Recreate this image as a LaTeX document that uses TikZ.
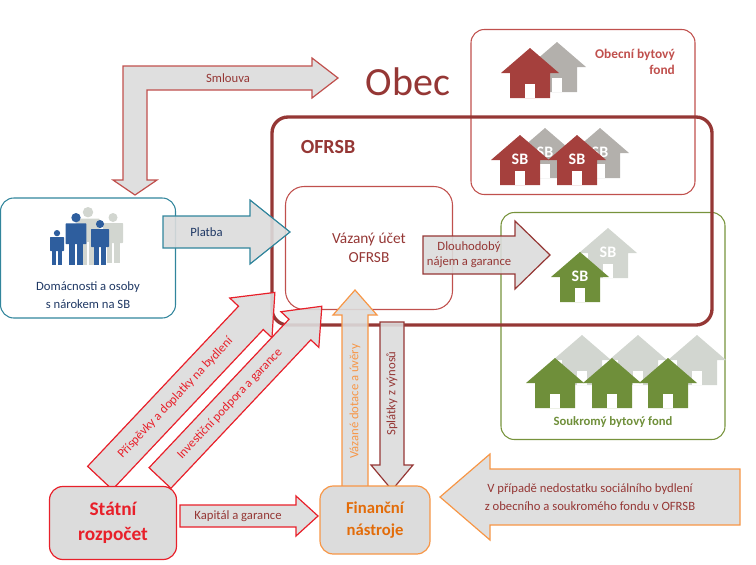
\documentclass[tikz,border=0pt]{standalone}
\usepackage{fontspec}
\setmainfont{Carlito}
\definecolor{dred}{HTML}{953735}
\definecolor{mred}{HTML}{C0504D}
\definecolor{hred}{HTML}{A5403D}
\definecolor{brred}{HTML}{E8202A}
\definecolor{teal}{HTML}{31859C}
\definecolor{dblue}{HTML}{1F3864}
\definecolor{pblue}{HTML}{2E5E9E}
\definecolor{olive}{HTML}{77933C}
\definecolor{hgreen}{HTML}{6F8F3A}
\definecolor{orng}{HTML}{F79646}
\definecolor{dorng}{HTML}{E36C09}
\definecolor{agray}{HTML}{DCDCDC}
\definecolor{hgray}{HTML}{B3B0AC}
\definecolor{lgray}{HTML}{D2D6D0}
\newcommand\fatarrow[9]{%
\begin{scope}[shift={(#2)},rotate=#3]
\draw[#1,fill=agray,fill opacity=0.9,line width=0.9pt] (0,-#5/2) -- ({#4-#7},-#5/2) -- ({#4-#7},-#6/2) -- (#4,0) -- ({#4-#7},#6/2) -- ({#4-#7},#5/2) -- (0,#5/2) -- cycle;
\node[#1,draw=none,rotate=#9,font=\fontsize{9.5}{11}\selectfont,align=center] (n#3#4) at ({(#4-#7)/2},0) {#8};
\end{scope}}
\newcommand\house[4]{%
\begin{scope}[shift={(#1,#2)}]
\fill[#3] (0,0) -- (29,25) -- (20,25) -- (20,50) -- (-20,50) -- (-20,25) -- (-29,25) -- cycle;
\fill[white] (-5,36) rectangle (5,50);
\node[white,font=\bfseries\fontsize{12}{12}\selectfont] at (0,24) {#4};
\end{scope}}
\newcommand\person[4]{%
\begin{scope}[shift={(#1,#2)},x=#3*0.75pt,y=-#3*0.75pt]
\fill[#4] (0,0.09) circle[radius=0.09];
\fill[#4,rounded corners=0.5] (-0.2,0.2) rectangle (0.2,0.6);
\fill[#4] (-0.13,0.55) rectangle (-0.02,1);
\fill[#4] (0.02,0.55) rectangle (0.13,1);
\end{scope}}
\begin{document}
\begin{tikzpicture}[x=0.75pt,y=-0.75pt,
 lab/.style={font=\fontsize{9.5}{11}\selectfont}]
\useasboundingbox (0,0) rectangle (756,564);
% boxes
\node[draw=mred,line width=0.8pt,rounded corners=10pt,minimum width=224*0.75pt,minimum height=165*0.75pt] (obecni) at (583,112) {};
\node[draw=olive,line width=0.8pt,rounded corners=10pt,minimum width=224*0.75pt,minimum height=227*0.75pt] (soukr) at (613,326) {};
\node[draw=dred,line width=2.5pt,rounded corners=12pt,minimum width=440*0.75pt,minimum height=208*0.75pt] (ofrsb) at (492,221) {};
\node[text=dred,font=\bfseries\fontsize{15}{15}\selectfont] (ofl) at (328,147) {OFRSB};
\node[text=dred,font=\fontsize{30}{30}\selectfont] (obec) at (408,82) {Obec};
\node[draw=mred,line width=0.8pt,rounded corners=14pt,minimum width=167*0.75pt,minimum height=123*0.75pt,text=dred,align=center,font=\fontsize{11.5}{14}\selectfont] (ucet) at (369,248) {Vázaný účet\\OFRSB};
\node[text=mred,font=\bfseries\fontsize{10}{12}\selectfont,align=right] (obl) at (635,62) {Obecní bytový\\fond};
\node[text=hgreen,font=\bfseries\fontsize{9.5}{11}\selectfont] (sol) at (613,422) {Soukromý bytový fond};
\node[draw=teal,line width=0.8pt,rounded corners=10pt,minimum width=175*0.75pt,minimum height=120*0.75pt] (dom) at (88,258) {};
\node[text=dblue,align=center,font=\fontsize{9.5}{13}\selectfont] (doml) at (88,295) {Domácnosti a osoby\\s nárokem na SB};
% houses
\house{557}{42}{hgray}{}
\house{530}{48}{hred}{}
\house{545}{128}{hgray}{SB}
\house{520}{135}{hred}{SB}
\house{600}{128}{hgray}{SB}
\house{577}{135}{hred}{SB}
\house{608}{228}{lgray}{SB}
\house{580}{252}{hgreen}{SB}
\foreach \x in {582,638,697} {\house{\x}{335}{lgray}{}}
\foreach \x in {555,612,668} {\house{\x}{358}{hgreen}{}}
% people
\person{88}{207}{58}{lgray}
\person{113}{213}{50}{lgray}
\person{76}{213}{52}{pblue}
\person{100}{220}{45}{pblue}
\person{57}{230}{35}{pblue}
% Smlouva elbow arrow
\draw[mred,fill=agray,fill opacity=0.9,line width=0.9pt] (123,180) -- (123,66) -- (312,66) -- (312,58) -- (338,78) -- (312,98) -- (312,90) -- (147,90) -- (147,180) -- (157,180) -- (135,195) -- (113,180) -- cycle;
\node[text=dred,lab] (sml) at (228,78) {Smlouva};
% arrows
\fatarrow{draw=teal,text=dblue}{163,232}{0}{127}{32}{64}{40}{Platba}{0}
\fatarrow{draw=dred,text=dred}{423,255}{0}{127}{38}{68}{35}{Dlouhodobý\\nájem a garance}{0}
\fatarrow{draw=brred,text=brred}{100,478}{46.7}{255}{34}{58}{35}{Příspěvky a doplatky na bydlení}{46.7}
\fatarrow{draw=brred,text=brred}{160,478}{46.7}{236}{30}{52}{32}{Investiční podpora a garance}{46.7}
\fatarrow{draw=orng,text=orng}{355,488}{90}{198}{26}{44}{25}{Vázané dotace a úvěry}{90}
\fatarrow{draw=dred,text=dred}{392,322}{-90}{168}{24}{42}{25}{Splátky z výnosů}{90}
\fatarrow{draw=brred,text=dred}{180,516}{0}{138}{22}{40}{22}{Kapitál a garance}{0}
\fatarrow{draw=orng,text=dred}{740,497}{180}{300}{56}{86}{50}{}{0}
\node[text=dred,align=center,font=\fontsize{9.5}{13}\selectfont] (vpr) at (590,497) {V případě nedostatku sociálního bydlení\\z obecního a soukromého fondu v OFRSB};
% bottom boxes
\node[draw=brred,fill=agray,line width=0.9pt,rounded corners=10pt,minimum width=127*0.75pt,minimum height=73*0.75pt,text=brred,align=center,font=\bfseries\fontsize{14.5}{19}\selectfont] (stat) at (113,523) {Státní\\rozpočet};
\node[draw=orng,fill=agray,line width=0.9pt,rounded corners=10pt,minimum width=110*0.75pt,minimum height=68*0.75pt,text=dorng,align=center,font=\bfseries\fontsize{12.5}{16}\selectfont] (fin) at (375,520) {Finanční\\nástroje};
\end{tikzpicture}
\end{document}
